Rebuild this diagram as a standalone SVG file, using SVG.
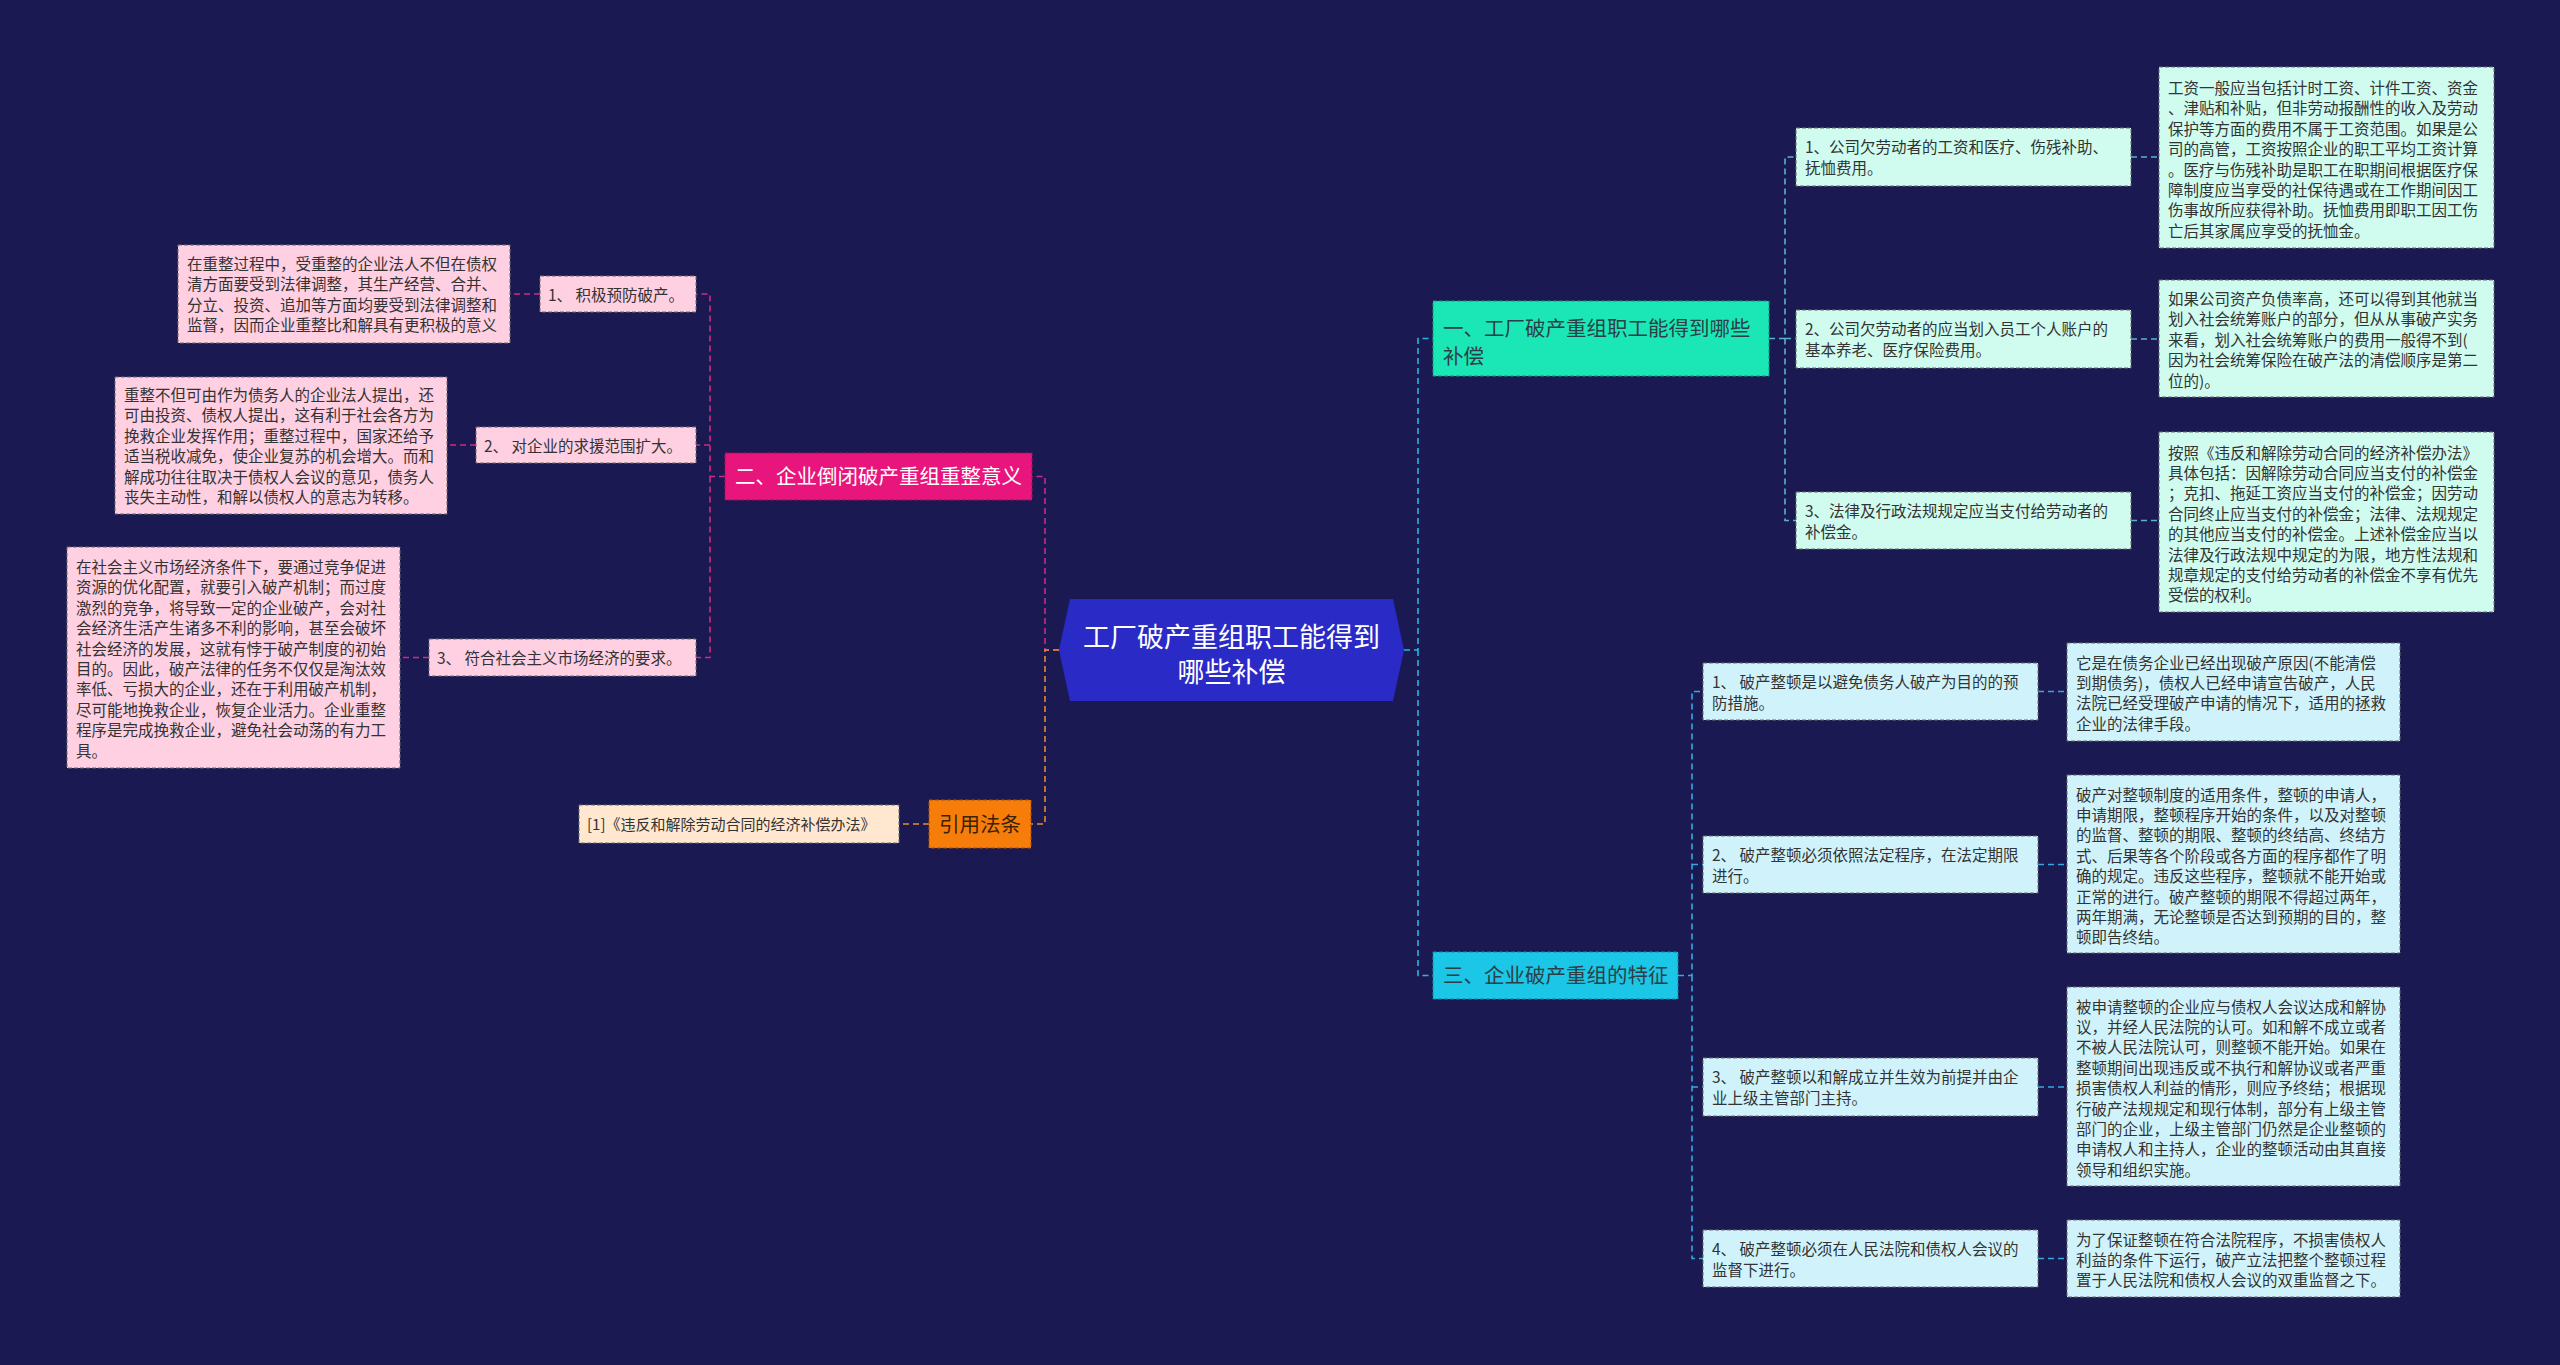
<svg xmlns="http://www.w3.org/2000/svg" width="2560" height="1365" viewBox="0 0 2560 1365">
<style>
text{font-family:"Noto Sans CJK SC","Noto Sans",sans-serif}
.t{font-size:15.5px;fill:#333333}
.tm{font-size:20.5px}
.c{fill:none;stroke-width:1.6;stroke-dasharray:6 4}
.cp{stroke:#d02a82}
.co{stroke:#e8892b}
.cc{stroke:#27b6e2}
.ca{stroke:#5ab4cc}
.cb{stroke:#33a9e2}
.bx{stroke:#6e6e6e;stroke-width:1;stroke-dasharray:4 2}
.pk{fill:#ffd0e2}
.mt{fill:#cffcef}
.cy{fill:#d0f3fb}
.pe{fill:#ffe8cf}
</style>
<rect x="0" y="0" width="2560" height="1365" fill="#1b1951"/>

<g id="connectors">
<path class="c cp" d="M1059,650 H1045 V476.5 H1032"/>
<path class="c cp" d="M725,476.5 H710 V294 H696 M710,445 H696 M710,476.5 V657.5 H696"/>
<path class="c cp" d="M540,294 H510 M476,445 H447 M429,657.5 H400"/>
<path class="c co" d="M1059,650 H1045 V824 H1031"/>
<path class="c co" d="M929,824 H899"/>
<path class="c cc" d="M1404,650 H1418 V338.5 H1433 M1418,650 V975.5 H1433"/>
<path class="c ca" d="M1769,338.5 H1785 V157 H1796 M1785,338.5 H1796 M1785,338.5 V520.5 H1796"/>
<path class="c ca" d="M2131,157 H2159 M2131,339 H2159 M2131,520.5 H2159"/>
<path class="c cb" d="M1678,975.5 H1692 V691.5 H1703 M1692,864.5 H1703 M1692,975.5 V1258.5 H1703 M1692,1087 H1703"/>
<path class="c cb" d="M2038,691.5 H2067 M2038,864.5 H2067 M2038,1087 H2067 M2038,1258.5 H2067"/>
</g>

<g id="center">
<polygon points="1070,599 1393,599 1404,650 1393,701 1070,701 1059,650" fill="#2a2bc6"/>
<text x="1231.5" y="647" font-size="27" fill="#ffffff" text-anchor="middle">工厂破产重组职工能得到</text>
<text x="1231.5" y="682" font-size="27" fill="#ffffff" text-anchor="middle">哪些补偿</text>
</g>

<g id="n2">
<rect x="725" y="453" width="307" height="47" fill="#e8157c" stroke="#a80e58" stroke-width="1" stroke-dasharray="4 2"/>
<text class="tm" x="735" y="484" fill="#ffffff">二、企业倒闭破产重组重整意义</text>
</g>
<g id="n2-1">
<rect class="bx pk" x="540" y="276" width="156" height="36"/>
<text class="t" x="548" y="300.5">1、 积极预防破产。</text>
</g>
<g id="n2-1-leaf">
<rect class="bx pk" x="178" y="245" width="332" height="98"/>
<text class="t" x="187" y="270"><tspan x="187">在重整过程中，受重整的企业法人不但在债权</tspan><tspan x="187" dy="20.4">清方面要受到法律调整，其生产经营、合并、</tspan><tspan x="187" dy="20.4">分立、投资、追加等方面均要受到法律调整和</tspan><tspan x="187" dy="20.4">监督，因而企业重整比和解具有更积极的意义</tspan></text>
</g>
<g id="n2-2">
<rect class="bx pk" x="476" y="427" width="220" height="36"/>
<text class="t" x="484" y="451.5">2、 对企业的求援范围扩大。</text>
</g>
<g id="n2-2-leaf">
<rect class="bx pk" x="115" y="377" width="332" height="137"/>
<text class="t" x="124" y="401"><tspan x="124">重整不但可由作为债务人的企业法人提出，还</tspan><tspan x="124" dy="20.4">可由投资、债权人提出，这有利于社会各方为</tspan><tspan x="124" dy="20.4">挽救企业发挥作用；重整过程中，国家还给予</tspan><tspan x="124" dy="20.4">适当税收减免，使企业复苏的机会增大。而和</tspan><tspan x="124" dy="20.4">解成功往往取决于债权人会议的意见，债务人</tspan><tspan x="124" dy="20.4">丧失主动性，和解以债权人的意志为转移。</tspan></text>
</g>
<g id="n2-3">
<rect class="bx pk" x="429" y="639" width="267" height="37"/>
<text class="t" x="437" y="664">3、 符合社会主义市场经济的要求。</text>
</g>
<g id="n2-3-leaf">
<rect class="bx pk" x="67" y="547" width="333" height="221"/>
<text class="t" x="76" y="573"><tspan x="76">在社会主义市场经济条件下，要通过竞争促进</tspan><tspan x="76" dy="20.4">资源的优化配置，就要引入破产机制；而过度</tspan><tspan x="76" dy="20.4">激烈的竞争，将导致一定的企业破产，会对社</tspan><tspan x="76" dy="20.4">会经济生活产生诸多不利的影响，甚至会破坏</tspan><tspan x="76" dy="20.4">社会经济的发展，这就有悖于破产制度的初始</tspan><tspan x="76" dy="20.4">目的。因此，破产法律的任务不仅仅是淘汰效</tspan><tspan x="76" dy="20.4">率低、亏损大的企业，还在于利用破产机制，</tspan><tspan x="76" dy="20.4">尽可能地挽救企业，恢复企业活力。企业重整</tspan><tspan x="76" dy="20.4">程序是完成挽救企业，避免社会动荡的有力工</tspan><tspan x="76" dy="20.4">具。</tspan></text>
</g>

<g id="ref">
<rect x="929" y="800" width="102" height="48" fill="#f77d0b" stroke="#a85000" stroke-width="1" stroke-dasharray="4 2"/>
<text class="tm" x="980" y="832" fill="#3d2200" text-anchor="middle">引用法条</text>
</g>
<g id="ref-leaf">
<rect class="bx pe" x="579" y="805" width="320" height="38"/>
<text x="587" y="830" font-size="15" fill="#333333">[1]《违反和解除劳动合同的经济补偿办法》</text>
</g>

<g id="n1">
<rect x="1433" y="301" width="336" height="75" fill="#1be7b6" stroke="#0f9a78" stroke-width="1" stroke-dasharray="4 2"/>
<text class="tm" x="1443" y="335.5" fill="#2b3f46"><tspan x="1443">一、工厂破产重组职工能得到哪些</tspan><tspan x="1443" dy="28">补偿</tspan></text>
</g>
<g id="n1-1">
<rect class="bx mt" x="1796" y="128" width="335" height="58"/>
<text class="t" x="1805" y="153"><tspan x="1805">1、公司欠劳动者的工资和医疗、伤残补助、</tspan><tspan x="1805" dy="21">抚恤费用。</tspan></text>
</g>
<g id="n1-1-leaf">
<rect class="bx mt" x="2159" y="67" width="335" height="181"/>
<text class="t" x="2168" y="94"><tspan x="2168">工资一般应当包括计时工资、计件工资、资金</tspan><tspan x="2168" dy="20.4">、津贴和补贴，但非劳动报酬性的收入及劳动</tspan><tspan x="2168" dy="20.4">保护等方面的费用不属于工资范围。如果是公</tspan><tspan x="2168" dy="20.4">司的高管，工资按照企业的职工平均工资计算</tspan><tspan x="2168" dy="20.4">。医疗与伤残补助是职工在职期间根据医疗保</tspan><tspan x="2168" dy="20.4">障制度应当享受的社保待遇或在工作期间因工</tspan><tspan x="2168" dy="20.4">伤事故所应获得补助。抚恤费用即职工因工伤</tspan><tspan x="2168" dy="20.4">亡后其家属应享受的抚恤金。</tspan></text>
</g>
<g id="n1-2">
<rect class="bx mt" x="1796" y="310" width="335" height="58"/>
<text class="t" x="1805" y="335"><tspan x="1805">2、公司欠劳动者的应当划入员工个人账户的</tspan><tspan x="1805" dy="21">基本养老、医疗保险费用。</tspan></text>
</g>
<g id="n1-2-leaf">
<rect class="bx mt" x="2159" y="280" width="335" height="117"/>
<text class="t" x="2168" y="305"><tspan x="2168">如果公司资产负债率高，还可以得到其他就当</tspan><tspan x="2168" dy="20.4">划入社会统筹账户的部分，但从从事破产实务</tspan><tspan x="2168" dy="20.4">来看，划入社会统筹账户的费用一般得不到(</tspan><tspan x="2168" dy="20.4">因为社会统筹保险在破产法的清偿顺序是第二</tspan><tspan x="2168" dy="20.4">位的)。</tspan></text>
</g>
<g id="n1-3">
<rect class="bx mt" x="1796" y="492" width="335" height="57"/>
<text class="t" x="1805" y="516.5"><tspan x="1805">3、法律及行政法规规定应当支付给劳动者的</tspan><tspan x="1805" dy="21">补偿金。</tspan></text>
</g>
<g id="n1-3-leaf">
<rect class="bx mt" x="2159" y="432" width="335" height="180"/>
<text class="t" x="2168" y="458.5"><tspan x="2168">按照《违反和解除劳动合同的经济补偿办法》</tspan><tspan x="2168" dy="20.4">具体包括：因解除劳动合同应当支付的补偿金</tspan><tspan x="2168" dy="20.4">；克扣、拖延工资应当支付的补偿金；因劳动</tspan><tspan x="2168" dy="20.4">合同终止应当支付的补偿金；法律、法规规定</tspan><tspan x="2168" dy="20.4">的其他应当支付的补偿金。上述补偿金应当以</tspan><tspan x="2168" dy="20.4">法律及行政法规中规定的为限，地方性法规和</tspan><tspan x="2168" dy="20.4">规章规定的支付给劳动者的补偿金不享有优先</tspan><tspan x="2168" dy="20.4">受偿的权利。</tspan></text>
</g>

<g id="n3">
<rect x="1433" y="952" width="245" height="47" fill="#1cc6e6" stroke="#0f8aa8" stroke-width="1" stroke-dasharray="4 2"/>
<text class="tm" x="1443" y="983" fill="#2b3f46">三、企业破产重组的特征</text>
</g>
<g id="n3-1">
<rect class="bx cy" x="1703" y="663" width="335" height="57"/>
<text class="t" x="1712" y="687.5"><tspan x="1712">1、 破产整顿是以避免债务人破产为目的的预</tspan><tspan x="1712" dy="21">防措施。</tspan></text>
</g>
<g id="n3-1-leaf">
<rect class="bx cy" x="2067" y="643" width="333" height="98"/>
<text class="t" x="2076" y="668.5"><tspan x="2076">它是在债务企业已经出现破产原因(不能清偿</tspan><tspan x="2076" dy="20.4">到期债务)，债权人已经申请宣告破产，人民</tspan><tspan x="2076" dy="20.4">法院已经受理破产申请的情况下，适用的拯救</tspan><tspan x="2076" dy="20.4">企业的法律手段。</tspan></text>
</g>
<g id="n3-2">
<rect class="bx cy" x="1703" y="836" width="335" height="57"/>
<text class="t" x="1712" y="860.5"><tspan x="1712">2、 破产整顿必须依照法定程序，在法定期限</tspan><tspan x="1712" dy="21">进行。</tspan></text>
</g>
<g id="n3-2-leaf">
<rect class="bx cy" x="2067" y="775" width="333" height="178"/>
<text class="t" x="2076" y="800.5"><tspan x="2076">破产对整顿制度的适用条件，整顿的申请人，</tspan><tspan x="2076" dy="20.4">申请期限，整顿程序开始的条件，以及对整顿</tspan><tspan x="2076" dy="20.4">的监督、整顿的期限、整顿的终结高、终结方</tspan><tspan x="2076" dy="20.4">式、后果等各个阶段或各方面的程序都作了明</tspan><tspan x="2076" dy="20.4">确的规定。违反这些程序，整顿就不能开始或</tspan><tspan x="2076" dy="20.4">正常的进行。破产整顿的期限不得超过两年，</tspan><tspan x="2076" dy="20.4">两年期满，无论整顿是否达到预期的目的，整</tspan><tspan x="2076" dy="20.4">顿即告终结。</tspan></text>
</g>
<g id="n3-3">
<rect class="bx cy" x="1703" y="1058" width="335" height="58"/>
<text class="t" x="1712" y="1083"><tspan x="1712">3、 破产整顿以和解成立并生效为前提并由企</tspan><tspan x="1712" dy="21">业上级主管部门主持。</tspan></text>
</g>
<g id="n3-3-leaf">
<rect class="bx cy" x="2067" y="987" width="333" height="199"/>
<text class="t" x="2076" y="1012.5"><tspan x="2076">被申请整顿的企业应与债权人会议达成和解协</tspan><tspan x="2076" dy="20.4">议，并经人民法院的认可。如和解不成立或者</tspan><tspan x="2076" dy="20.4">不被人民法院认可，则整顿不能开始。如果在</tspan><tspan x="2076" dy="20.4">整顿期间出现违反或不执行和解协议或者严重</tspan><tspan x="2076" dy="20.4">损害债权人利益的情形，则应予终结；根据现</tspan><tspan x="2076" dy="20.4">行破产法规规定和现行体制，部分有上级主管</tspan><tspan x="2076" dy="20.4">部门的企业，上级主管部门仍然是企业整顿的</tspan><tspan x="2076" dy="20.4">申请权人和主持人，企业的整顿活动由其直接</tspan><tspan x="2076" dy="20.4">领导和组织实施。</tspan></text>
</g>
<g id="n3-4">
<rect class="bx cy" x="1703" y="1230" width="335" height="57"/>
<text class="t" x="1712" y="1254.5"><tspan x="1712">4、 破产整顿必须在人民法院和债权人会议的</tspan><tspan x="1712" dy="21">监督下进行。</tspan></text>
</g>
<g id="n3-4-leaf">
<rect class="bx cy" x="2067" y="1220" width="333" height="77"/>
<text class="t" x="2076" y="1245.5"><tspan x="2076">为了保证整顿在符合法院程序，不损害债权人</tspan><tspan x="2076" dy="20.4">利益的条件下运行，破产立法把整个整顿过程</tspan><tspan x="2076" dy="20.4">置于人民法院和债权人会议的双重监督之下。</tspan></text>
</g>
</svg>
